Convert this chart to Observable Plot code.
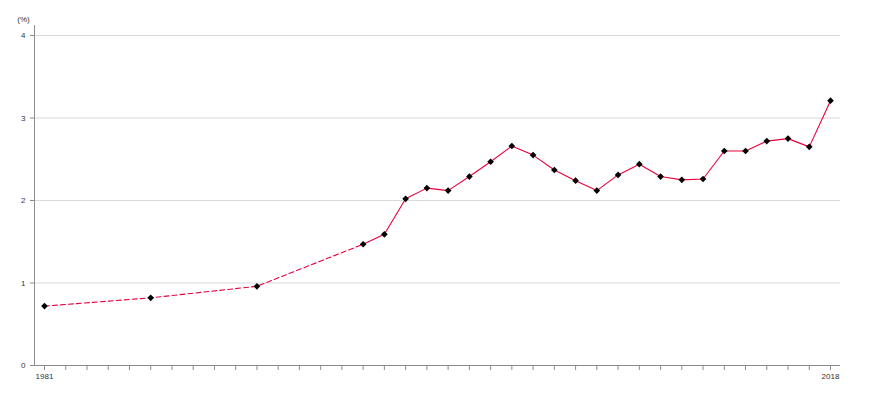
<!DOCTYPE html>
<html>
<head>
<meta charset="utf-8">
<script src="https://cdn.jsdelivr.net/npm/d3@7"></script>
<script src="https://cdn.jsdelivr.net/npm/@observablehq/plot@0.6"></script>
<style>
  html, body { margin: 0; padding: 0; background: #fff; }
  #chart svg { display: block; }
</style>
</head>
<body>
<div id="chart"></div>
<script>
const years  = [1981, 1986, 1991, 1996, 1997, 1998, 1999, 2000, 2001, 2002, 2003, 2004, 2005, 2006, 2007, 2008, 2009, 2010, 2011, 2012, 2013, 2014, 2015, 2016, 2017, 2018];
const values = [0.72, 0.82, 0.96, 1.47, 1.59, 2.02, 2.15, 2.12, 2.29, 2.47, 2.66, 2.55, 2.37, 2.24, 2.12, 2.31, 2.44, 2.29, 2.25, 2.26, 2.60, 2.60, 2.72, 2.75, 2.65, 3.21];
const xTickYears = d3.range(1981, 2019);
const xTickLabels = [1981, 2018];
const yTicks = [0, 1, 2, 3, 4];
const yUnit = "(%)";
const dashedUntil = 1996;

const data = years.map((y, i) => ({year: y, value: values[i]}));
const dashedPart = data.filter(d => d.year <= dashedUntil);
const solidPart = data.filter(d => d.year >= dashedUntil);

const lineColor = "#e8003d";
const axisColor = "#8c8c8c";

const chart = Plot.plot({
  width: 870,
  height: 400,
  marginLeft: 34,
  marginRight: 30,
  marginTop: 25,
  marginBottom: 35,
  style: {fontFamily: "'Liberation Sans', Arial, sans-serif", fontSize: "8px", color: "#333", background: "#fff"},
  x: {type: "linear", domain: [1980.53, 2018.47]},
  y: {domain: [0, 4.121]},
  marks: [
    Plot.gridY([1, 2, 3, 4], {stroke: "#d9d9d9", strokeOpacity: 1}),
    Plot.frame({anchor: "left", stroke: axisColor}),
    Plot.ruleY([0], {stroke: axisColor}),
    Plot.axisY({ticks: yTicks, tickSize: 4, tickPadding: 5, label: null, stroke: axisColor, fill: "#333", tickFormat: d3.format("d")}),
    Plot.axisX({ticks: xTickYears, tickSize: 5, tickPadding: 3, label: null, stroke: axisColor, fill: "#333",
      tickFormat: d => xTickLabels.includes(d) ? String(d) : ""}),
    Plot.text([yUnit], {frameAnchor: "top-left", dx: -11, dy: -9, text: d => d, textAnchor: "middle", fill: "#333"}),
    Plot.line(dashedPart, {x: "year", y: "value", stroke: lineColor, strokeWidth: 1.1, strokeDasharray: "5,3"}),
    Plot.line(solidPart, {x: "year", y: "value", stroke: lineColor, strokeWidth: 1.1}),
    Plot.dot(data, {x: "year", y: "value", symbol: "diamond2", r: 3, fill: "#000", stroke: "none"})
  ]
});
document.getElementById("chart").appendChild(chart);
</script>
</body>
</html>
